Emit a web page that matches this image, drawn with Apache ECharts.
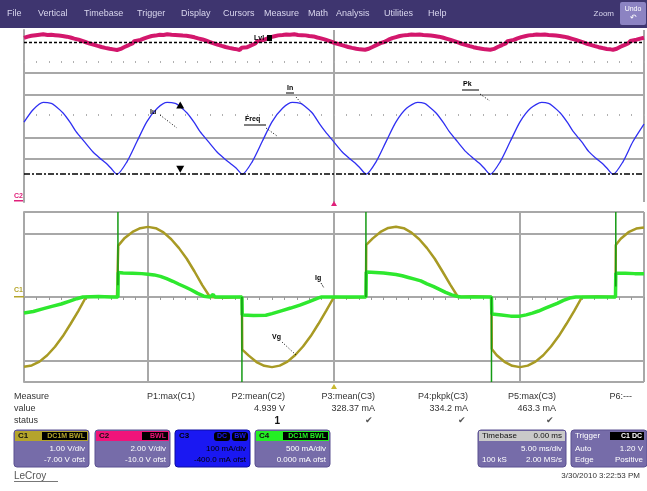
<!DOCTYPE html>
<html><head><meta charset="utf-8">
<script src="https://cdn.jsdelivr.net/npm/echarts@6/dist/echarts.min.js"></script>
<style>html,body{margin:0;padding:0;background:#fff;}#c{width:647px;height:491px;}</style>
</head><body><div id="c"></div>
<script>
// ---- data (time in divisions, 0..10) ----
const menuItems = [['File',7],['Vertical',38],['Timebase',84],['Trigger',137],['Display',181],['Cursors',223],['Measure',264],['Math',308],['Analysis',336],['Utilities',384],['Help',428]];

// C2 (pink) volts
const c2Pts = [[0,5.13],[0.06,5.19],[0.12,5.23],[0.19,5.26],[0.25,5.28],[0.31,5.3],[0.38,5.27],[0.44,5.28],[0.5,5.26],[0.56,5.24],[0.62,5.22],[0.69,5.19],[0.75,5.15],[0.81,5.1],[0.88,5.05],[0.94,4.99],[1.0,4.93],[1.06,4.87],[1.12,4.82],[1.19,4.76],[1.25,4.71],[1.31,4.67],[1.38,4.63],[1.44,4.6],
[1.5,4.57],[1.53,4.66],[1.56,4.62],[1.62,4.71],[1.69,4.8],[1.75,4.88],[1.78,4.98],[1.81,4.93],[1.88,5.04],[1.94,5.11],[2.0,5.17],[2.06,5.22],[2.12,5.24],[2.19,5.28],[2.25,5.27],[2.31,5.3],[2.38,5.28],[2.44,5.27],[2.5,5.26],[2.56,5.24],[2.62,5.23],[2.69,5.2],[2.75,5.16],[2.81,5.11],[2.88,5.06],[2.94,5.0],[3.0,4.94],[3.06,4.88],[3.12,4.82],[3.19,4.76],[3.25,4.71],[3.31,4.67],[3.38,4.63],[3.44,4.6],
[3.48,4.57],[3.51,4.67],[3.54,4.62],[3.6,4.7],[3.67,4.79],[3.73,4.87],[3.76,4.97],[3.79,4.92],[3.86,5.03],[3.92,5.1],[3.98,5.17],[4.04,5.21],[4.1,5.25],[4.17,5.27],[4.23,5.29],[4.29,5.28],[4.36,5.3],[4.42,5.27],[4.48,5.26],[4.54,5.25],[4.6,5.22],[4.67,5.2],[4.73,5.15],[4.79,5.11],[4.86,5.05],[4.92,4.99],[4.98,4.93],[5.04,4.87],[5.1,4.82],[5.17,4.76],[5.23,4.71],[5.29,4.67],[5.36,4.63],[5.42,4.6],
[5.5,4.58],[5.53,4.66],[5.56,4.63],[5.62,4.71],[5.69,4.81],[5.75,4.89],[5.78,4.98],[5.81,4.94],[5.88,5.05],[5.94,5.12],[6.0,5.17],[6.06,5.22],[6.12,5.25],[6.19,5.27],[6.25,5.29],[6.31,5.28],[6.38,5.29],[6.44,5.27],[6.5,5.26],[6.56,5.24],[6.62,5.22],[6.69,5.19],[6.75,5.15],[6.81,5.1],[6.88,5.04],[6.94,4.98],[7.0,4.92],[7.06,4.86],[7.12,4.81],[7.19,4.75],[7.25,4.7],[7.31,4.66],[7.38,4.63],[7.44,4.6],
[7.52,4.58],[7.55,4.67],[7.58,4.62],[7.64,4.71],[7.71,4.8],[7.77,4.88],[7.8,4.98],[7.83,4.93],[7.9,5.04],[7.96,5.11],[8.02,5.17],[8.08,5.21],[8.14,5.25],[8.21,5.27],[8.27,5.29],[8.33,5.28],[8.4,5.29],[8.46,5.27],[8.52,5.26],[8.58,5.24],[8.64,5.22],[8.71,5.19],[8.77,5.15],[8.83,5.1],[8.9,5.04],[8.96,4.98],[9.02,4.92],[9.08,4.86],[9.14,4.81],[9.21,4.75],[9.27,4.7],[9.33,4.66],[9.4,4.62],[9.46,4.6],
[9.5,4.58],[9.53,4.67],[9.56,4.63],[9.62,4.72],[9.69,4.81],[9.75,4.89],[9.78,4.99],[9.81,4.94],[9.88,5.05],[9.94,5.1],[10,5.14]];
const c2Mean = 4.939;

// C3 (blue) mA
const c3Pts = [[0,371],[0.15,430],[0.31,463],[0.44,459],[0.5,448],[0.63,414],[0.75,368],[0.84,327],[0.97,282],[1.11,234],[1.22,205],[1.32,181],[1.4,158],[1.5,129],
[1.66,187],[1.82,280],[1.98,373],[2.15,436],[2.31,463],[2.44,459],[2.5,448],[2.63,414],[2.75,368],[2.84,327],[2.97,282],[3.11,234],[3.22,205],[3.32,181],[3.42,158],[3.52,129],
[3.68,187],[3.84,280],[4.0,373],[4.17,436],[4.33,463],[4.46,459],[4.52,448],[4.65,414],[4.77,362],[4.86,327],[4.99,282],[5.13,234],[5.24,205],[5.34,181],[5.42,158],[5.52,130],
[5.68,188],[5.84,281],[6.0,373],[6.17,436],[6.35,463],[6.46,459],[6.52,447],[6.65,413],[6.77,367],[6.86,327],[6.99,281],[7.13,233],[7.24,205],[7.34,181],[7.42,158],[7.52,129],
[7.68,187],[7.84,280],[8.0,373],[8.17,436],[8.35,463],[8.46,459],[8.52,448],[8.65,414],[8.77,368],[8.86,327],[8.99,282],[9.11,234],[9.22,205],[9.32,181],[9.4,158],[9.5,129],
[9.66,187],[9.82,280],[10,362]];
const c3Max = 463.3, c3PkPk = 334.2;

// C1 (olive) divisions
const c1Pts = [[0,-3.28],[0.125,-3.22],[0.25,-3.04],[0.375,-2.74],[0.5,-2.34],[0.625,-1.85],[0.75,-1.27],[0.875,-0.66],[1.0,0],[1.25,0.02],[1.5,0],[1.515,0.02],
[1.52,2.42],[1.625,2.78],[1.75,3.06],[1.875,3.24],[2.0,3.3],[2.125,3.24],[2.25,3.04],[2.375,2.72],[2.5,2.3],[2.625,1.8],[2.75,1.2],[2.875,0.56],[3.0,0],[3.25,-0.03],[3.515,0],
[3.52,-2.48],[3.625,-2.76],[3.75,-3.06],[3.875,-3.24],[4.0,-3.3],[4.125,-3.23],[4.25,-3.04],[4.375,-2.73],[4.5,-2.33],[4.625,-1.84],[4.75,-1.26],[4.875,-0.64],[5.0,0],[5.25,-0.02],[5.515,0],
[5.52,2.45],[5.625,2.76],[5.75,3.06],[5.875,3.25],[6.0,3.31],[6.125,3.24],[6.25,3.03],[6.375,2.72],[6.5,2.3],[6.625,1.8],[6.75,1.2],[6.875,0.58],[7.0,0],[7.25,0.03],[7.54,0],
[7.545,-2.45],[7.625,-2.74],[7.75,-3.05],[7.875,-3.24],[8.0,-3.3],[8.125,-3.23],[8.25,-3.04],[8.375,-2.74],[8.5,-2.33],[8.625,-1.84],[8.75,-1.26],[8.875,-0.65],[9.0,0],[9.25,0.02],[9.54,0],
[9.545,2.45],[9.625,2.74],[9.75,3.05],[9.875,3.22],[10,3.27]];

// C4 (green) divisions
const c4Pts = [[0,-0.75],[0.15,-0.68],[0.3,-0.56],[0.45,-0.44],[0.6,-0.33],[0.75,-0.18],[0.85,-0.08],[0.95,0],[1.2,0.02],[1.4,0],[1.515,0],
[1.52,1.15],[1.6,1.13],[1.75,1.12],[1.9,1.1],[2.0,1.07],[2.1,1.04],[2.2,0.97],[2.3,0.86],[2.4,0.74],[2.5,0.6],[2.6,0.47],[2.7,0.33],[2.8,0.17],[2.9,0.04],[3.0,0],[3.05,0.12],[3.08,0],[3.3,0],[3.515,0],
[3.52,-0.85],[3.7,-0.87],[3.9,-0.86],[4.0,-0.78],[4.15,-0.65],[4.3,-0.52],[4.45,-0.38],[4.6,-0.22],[4.75,-0.04],[4.8,0],[5.2,0],[5.515,0],
[5.52,1.18],[5.6,1.17],[5.8,1.13],[6.0,1.06],[6.1,1.0],[6.2,0.92],[6.3,0.84],[6.4,0.76],[6.5,0.62],[6.6,0.5],[6.7,0.36],[6.8,0.22],[6.9,0.1],[7.0,0.02],[7.05,0],[7.3,0],[7.54,0],
[7.545,-0.8],[7.7,-0.85],[7.85,-0.9],[8.0,-0.9],[8.1,-0.84],[8.2,-0.76],[8.3,-0.66],[8.4,-0.54],[8.5,-0.42],[8.6,-0.3],[8.7,-0.16],[8.8,-0.05],[8.9,0],[9.2,0],[9.54,0],
[9.545,1.12],[9.7,1.12],[9.85,1.1],[10,1.1]];
const c4Spikes = [[1.515,4],[1.515,0.55],[1.515,'-'],[3.515,0],[3.515,-4],[3.515,'-'],[5.515,4],[5.515,0],[5.515,'-'],[7.54,-4],[7.54,0],[7.54,'-'],[9.545,4],[9.545,0.5]];

const measNames = ['P1:max(C1)','P2:mean(C2)','P3:mean(C3)','P4:pkpk(C3)','P5:max(C3)','P6:---'];
const measValues = ['', '4.939 V', '328.37 mA', '334.2 mA', '463.3 mA', ''];
const measStatus = ['', '1', '\u2714', '\u2714', '\u2714', ''];
const measRight = [195, 285, 375, 468, 556, 632];

// ---- drawing ----
const FONT = "'Liberation Sans', Arial, sans-serif";
const G = [];
function rect(x,y,w,h,fill,o){o=o||{};G.push({type:'rect',silent:true,z:o.z||10,shape:{x:x,y:y,width:w,height:h,r:o.r||0},style:{fill:fill,stroke:o.stroke||null,lineWidth:o.lw||1}});}
function text(x,y,t,o){o=o||{};G.push({type:'text',silent:true,z:o.z||12,x:x,y:y,style:{text:t,fill:o.fill||'#222',font:(o.bold?'bold ':'')+(o.size||9)+'px '+FONT,textAlign:o.align||'left',textVerticalAlign:'middle'}});}
function seg(x1,y1,x2,y2,o){o=o||{};G.push({type:'line',silent:true,z:o.z||12,shape:{x1:x1,y1:y1,x2:x2,y2:y2},style:{stroke:o.stroke||'#000',lineWidth:o.lw||1,lineDash:o.dash||null}});}
function poly(pts,fill){G.push({type:'polygon',silent:true,z:12,shape:{points:pts},style:{fill:fill}});}

// menu bar
rect(0,0,647,28,'#3e356f');
menuItems.forEach(m=>text(m[1],14,m[0],{fill:'#d9d6ee',size:9}));
text(614,14,'Zoom',{fill:'#d9d6ee',size:8,align:'right'});
rect(620,2,26,23,'#8c83c2',{r:2});
text(633,9,'Undo',{fill:'#fff',size:7,align:'center'});
text(633,18,'\u21b6',{fill:'#fff',size:8,align:'center'});

// channel markers at left
text(14,196,'C2',{fill:'#e0207a',size:7,bold:true});
rect(14,200,9,1.5,'#e0207a');
text(14,290,'C1',{fill:'#b5a52a',size:7,bold:true});
rect(14,296,10,1.5,'#b5a52a');
poly([[331,206],[337,206],[334,201]],'#e0207a');
poly([[331,389],[337,389],[334,384]],'#c8b830');

// annotations in plot
text(254,38,'Lvl',{fill:'#000',size:7,bold:true});
rect(267,35,5,6,'#000');
text(150,112,'Iu',{fill:'#000',size:7,bold:true});
seg(160,115,177,128,{dash:[1,2]});
text(287,88,'In',{fill:'#000',size:7,bold:true});
seg(286,93,294,93);
seg(296,97,302,104,{dash:[1,2]});
text(245,119,'Freq',{fill:'#000',size:7,bold:true});
seg(244,125,266,125);
seg(266,128,277,136,{dash:[1,2]});
text(463,84,'Pk',{fill:'#000',size:7,bold:true});
seg(462,90,479,90);
seg(480,94,490,101,{dash:[1,2]});
text(315,278,'Ig',{fill:'#000',size:7,bold:true});
seg(321,283,324,288,{dash:[1,1]});
text(272,337,'Vg',{fill:'#000',size:7,bold:true});
seg(282,342,296,355,{dash:[1,2]});

// measurement table
text(14,397,'Measure',{fill:'#333',size:9});
text(14,409,'value',{fill:'#333',size:9});
text(14,421,'status',{fill:'#333',size:9});
measNames.forEach((n,i)=>{
  text(measRight[i],397,n,{fill:'#333',size:9,align:'right'});
  text(measRight[i],409,measValues[i],{fill:'#333',size:9,align:'right'});
  text(measRight[i]-(measStatus[i]==='1'?5:2),421,measStatus[i],{fill:measStatus[i]==='1'?'#111':'#555',size:measStatus[i]==='1'?10:9,align:'right',bold:measStatus[i]==='1'});
});

// channel boxes
const BODY = '#766ca9';
function chanBox(x,w,head,lab,tag,tagW,l1,l2,tcol){
  rect(x,430,w,37,BODY,{r:3,stroke:'#5a5090'});
  rect(x+1,431,w-2,10,head,{z:11});
  text(x+4,436,lab,{fill:'#111',size:8,bold:true,z:13});
  rect(x+w-tagW-2,432,tagW,8,'#000',{z:12});
  text(x+w-4,436,tag,{fill:head,size:7,bold:true,align:'right',z:13});
  text(x+w-4,449,l1,{fill:tcol||'#fff',size:8,align:'right',z:13});
  text(x+w-4,460,l2,{fill:tcol||'#fff',size:8,align:'right',z:13});
}
chanBox(14,75,'#b4a42c','C1','DC1M BWL',45,'1.00 V/div','-7.00 V ofst');
chanBox(95,75,'#f0147a','C2','BWL',26,'2.00 V/div','-10.0 V ofst');
// C3 full blue
rect(175,430,75,37,'#1a18f2',{r:3,stroke:'#0c0ca0'});
text(179,436,'C3',{fill:'#000',size:8,bold:true,z:13});
rect(214,432,16,9,'#000',{r:3,z:12});
text(222,436.5,'DC',{fill:'#1a18f2',size:7,bold:true,align:'center',z:13});
rect(232,432,16,9,'#000',{r:3,z:12});
text(240,436.5,'BW',{fill:'#1a18f2',size:7,bold:true,align:'center',z:13});
text(246,449,'100 mA/div',{fill:'#000',size:8,align:'right',z:13});
text(246,460,'-400.0 mA ofst',{fill:'#000',size:8,align:'right',z:13});
chanBox(255,75,'#24ee24','C4','DC1M BWL',45,'500 mA/div','0.000 mA ofst');
// timebase
rect(478,430,88,37,BODY,{r:3,stroke:'#5a5090'});
rect(479,431,86,10,'#c9c9c9',{z:11});
text(482,436,'Timebase',{fill:'#111',size:8,z:13});
text(562,436,'0.00 ms',{fill:'#111',size:8,align:'right',z:13});
text(562,449,'5.00 ms/div',{fill:'#fff',size:8,align:'right',z:13});
text(482,460,'100 kS',{fill:'#fff',size:8,z:13});
text(562,460,'2.00 MS/s',{fill:'#fff',size:8,align:'right',z:13});
// trigger
rect(571,430,76,37,BODY,{r:3,stroke:'#5a5090'});
text(575,436,'Trigger',{fill:'#fff',size:8,z:13});
rect(610,432,34,8,'#000',{z:12});
text(642,436,'C1 DC',{fill:'#fff',size:7,bold:true,align:'right',z:13});
text(575,449,'Auto',{fill:'#fff',size:8,z:13});
text(643,449,'1.20 V',{fill:'#fff',size:8,align:'right',z:13});
text(575,460,'Edge',{fill:'#fff',size:8,z:13});
text(643,460,'Positive',{fill:'#fff',size:8,align:'right',z:13});
// footer
text(14,476,'LeCroy',{fill:'#555',size:10});
rect(14,481,44,1,'#777');
text(640,476,'3/30/2010 3:22:53 PM',{fill:'#333',size:8,align:'right'});

const T = 'rgba(0,0,0,0)', GR = '#a8a8a8';
const tickCommon = {show:true, length:2, inside:true, lineStyle:{color:'#b0b0b0', width:1}};
const minorCommon = {show:true, splitNumber:5, length:2, lineStyle:{color:'#b0b0b0', width:1}};

const option = {
  animation:false,
  backgroundColor:'#ffffff',
  grid:[{left:24, top:30, width:620, height:172},{left:24, top:212, width:620, height:170},{left:24, top:61, width:620, height:2}],
  xAxis:[
    {gridIndex:0, type:'value', min:0, max:10, interval:1, axisLabel:{show:false},
     axisLine:{show:false, onZero:true}, axisTick:tickCommon, minorTick:minorCommon,
     splitLine:{show:true, lineStyle:{width:2, color:[GR,T,T,T,T,GR,T,T,T,T,GR]}}},
    {gridIndex:2, type:'value', min:0, max:10, interval:1, axisLabel:{show:false},
     axisLine:{show:false, onZero:false}, axisTick:tickCommon, minorTick:minorCommon, splitLine:{show:false}},
    {gridIndex:1, type:'value', min:0, max:10, interval:1, axisLabel:{show:false},
     axisLine:{show:false, onZero:true}, axisTick:{show:true, length:3, lineStyle:{color:'#9a9a9a'}},
     minorTick:{show:true, splitNumber:5, length:3, lineStyle:{color:'#9a9a9a'}},
     splitLine:{show:true, lineStyle:{width:2, color:[GR,T,GR,T,T,GR,T,T,GR,T,GR]}}}
  ],
  yAxis:[
    {gridIndex:0, type:'value', min:-4, max:4, interval:1, axisLabel:{show:false}, axisTick:{show:false},
     axisLine:{show:true, lineStyle:{color:GR, width:2}},
     splitLine:{show:true, lineStyle:{width:2, color:[T,T,GR,GR,T,GR,GR,T,T]}}},
    {gridIndex:0, type:'value', min:0, max:800, show:false, splitLine:{show:false}},
    {gridIndex:0, type:'value', min:-2.5, max:5.5, show:false, splitLine:{show:false}},
    {gridIndex:1, type:'value', min:-4, max:4, interval:1, axisLabel:{show:false}, axisTick:{show:false},
     axisLine:{show:true, lineStyle:{color:GR, width:2}},
     splitLine:{show:true, lineStyle:{width:2, color:[GR,GR,T,T,GR,T,T,GR,GR]}}},
    {gridIndex:2, type:'value', min:0, max:1, show:false, splitLine:{show:false}}
  ],
  series:[
    {name:'C2', type:'line', xAxisIndex:0, yAxisIndex:2, data:c2Pts, showSymbol:false, symbol:'none',
     lineStyle:{color:'#d3176c', width:4}, z:3,
     markLine:{silent:true, symbol:'none', label:{show:false},
       lineStyle:{color:'#000', type:[3,2], width:1.3}, data:[{yAxis:c2Mean}]}},
    {name:'C3', type:'line', xAxisIndex:0, yAxisIndex:1, data:c3Pts, showSymbol:false, symbol:'none', smooth:0.25,
     lineStyle:{color:'#2f2ff2', width:1.3}, z:4,
     markLine:{silent:true, symbol:'none', label:{show:false},
       lineStyle:{color:'#000', type:[6,2,2,2], width:1.5}, data:[{yAxis:c3Max - c3PkPk}]},
     markPoint:{silent:true, label:{show:false}, itemStyle:{color:'#000'},
       data:[{coord:[2.52,451], symbol:'triangle', symbolSize:[8,7]},
             {coord:[2.52,152], symbol:'triangle', symbolSize:[8,7], symbolRotate:180}]}},
    {name:'C1', type:'line', xAxisIndex:2, yAxisIndex:3, data:c1Pts, showSymbol:false, symbol:'none',
     lineStyle:{color:'#a89a24', width:2.5}, z:3},
    {name:'C4', type:'line', xAxisIndex:2, yAxisIndex:3, data:c4Pts, showSymbol:false, symbol:'none',
     lineStyle:{color:'#2ee82e', width:3.5}, z:4},
    {name:'C4 spikes', type:'line', xAxisIndex:2, yAxisIndex:3, data:c4Spikes, showSymbol:false, symbol:'none',
     connectNulls:false, lineStyle:{color:'#149a14', width:1.5}, z:5}
  ],
  graphic:G
};
const chart = echarts.init(document.getElementById('c'), null, {renderer:'canvas'});
chart.setOption(option);
</script></body></html>
